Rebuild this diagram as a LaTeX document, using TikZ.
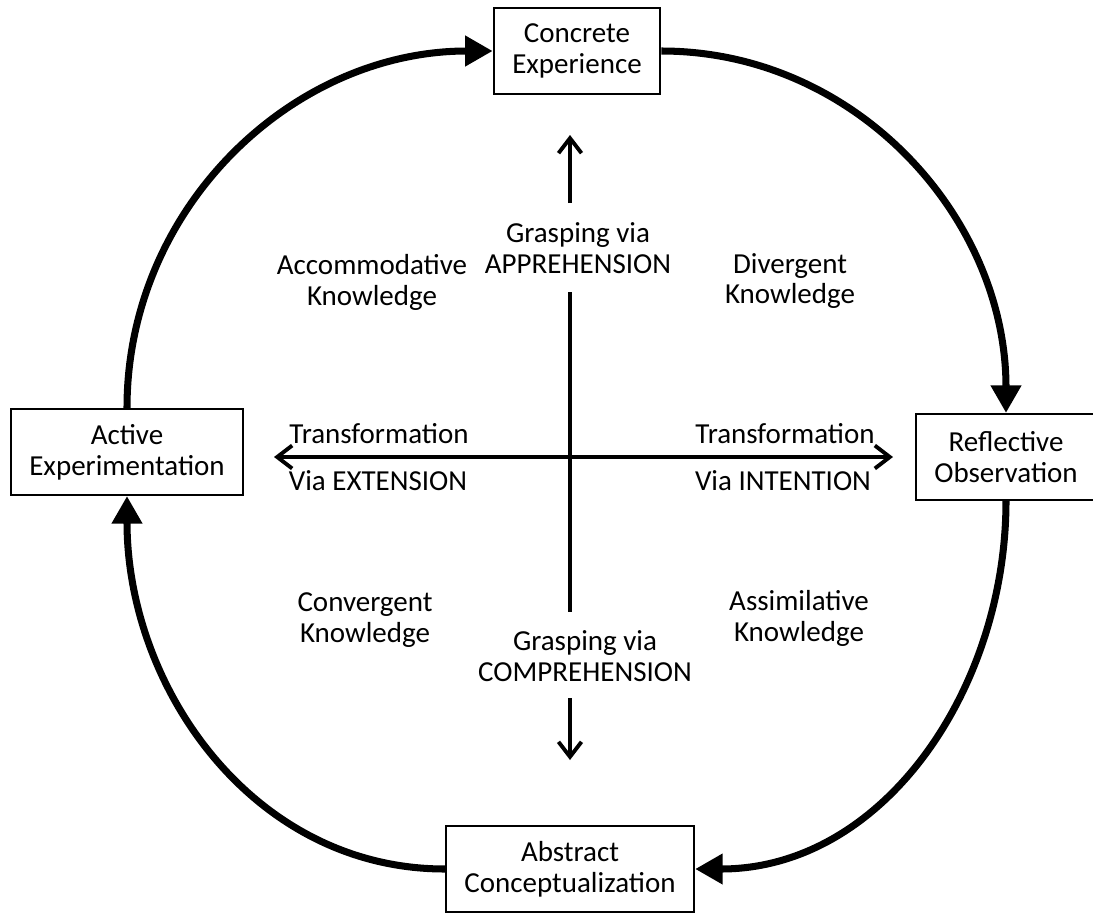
\documentclass[tikz,border=0pt]{standalone}
\usepackage{fontspec}
\setmainfont{Carlito}
\usetikzlibrary{arrows.meta}
\begin{document}
\begin{tikzpicture}[x=0.02cm, y=-0.02cm, font=\fontsize{16.5}{17.6}\selectfont,
  stage/.style={shape=rectangle, draw, line width=1.2pt, align=center, inner xsep=0.37cm, minimum height=1.72cm},
  cycle/.style={line width=4pt, -{Triangle[length=0.55cm, width=0.58cm]}, looseness=1},
  axis/.style={line width=2.2pt},
  barb/.tip={Straight Barb[length=0.3cm, width=0.46cm]}]

  \useasboundingbox (0,0) rectangle (1093,913);

  \node (ce) at (577,51) [stage] {Concrete\\Experience};
  \node (ro) at (1006,457) [stage] {Reflective\\Observation};
  \node (ac) at (570,869) [stage] {Abstract\\Conceptualization};
  \node (ae) at (127,452) [stage] {Active\\Experimentation};

  \draw [cycle] (ce.east) to [out=0, in=90] (ro.north);
  \draw [cycle] (ro.south) to [out=-90, in=0] (ac.east);
  \draw [cycle] (ac.west) to [out=180, in=-90] (ae.south);
  \draw [cycle] (ae.north) to [out=90, in=180] (ce.west);

  \node (app) at (578,248) [align=center] {Grasping via\\APPREHENSION};
  \node (comp) at (585,656) [align=center] {Grasping via\\COMPREHENSION};
  \node (acc) at (372,282) [align=center] {Accommodative\\Knowledge};
  \node (div) at (790,281) [align=center] {Divergent\\Knowledge};
  \node (conv) at (365,620) [align=center] {Convergent\\Knowledge};
  \node (assim) at (799,618) [align=center] {Assimilative\\Knowledge};
  \node (extA) at (379,434) {Transformation};
  \node (extB) at (378,481) {Via EXTENSION};
  \node (intA) at (785,434) {Transformation};
  \node (intB) at (783,481) {Via INTENTION};

  \coordinate (up) at (570,135);
  \coordinate (upS) at (570,203);
  \coordinate (midN) at (570,292);
  \coordinate (midS) at (570,612);
  \coordinate (downS) at (570,698);
  \coordinate (down) at (570,760);
  \coordinate (ext) at (274,457);
  \coordinate (int) at (893,457);

  \draw [axis, -barb] (upS) -- (up);
  \draw [axis] (midN) -- (midS);
  \draw [axis, -barb] (downS) -- (down);
  \draw [axis, barb-barb] (ext) -- (int);

\end{tikzpicture}
\end{document}
